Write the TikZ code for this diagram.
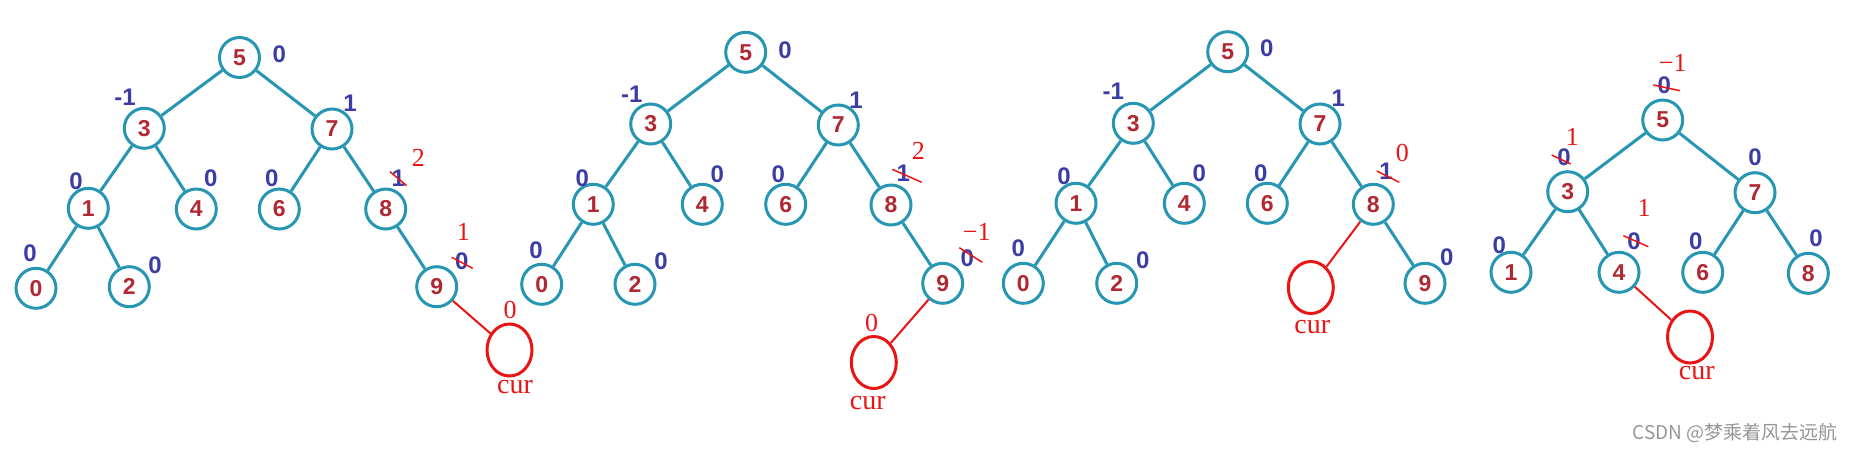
\documentclass[tikz,border=0pt]{standalone}
\usepackage{fontspec}
\setmainfont{Liberation Serif}
\setsansfont{Liberation Sans}
\newfontfamily\cjkfont{Noto Sans CJK SC}
\usetikzlibrary{shapes.geometric}
\definecolor{tealc}{RGB}{38,150,178}
\definecolor{nred}{RGB}{175,40,50}
\definecolor{bcol}{RGB}{60,60,165}
\definecolor{ared}{RGB}{235,20,20}
\definecolor{wm}{RGB}{150,150,150}
\tikzset{
 nd/.style={circle, draw=tealc, line width=1.5pt, minimum size=20pt, inner sep=0pt, font=\sffamily\bfseries\fontsize{11.5}{13}\selectfont, text=nred, fill=white},
 ed/.style={draw=tealc, line width=1.5pt},
 bal/.style={font=\sffamily\bfseries\fontsize{12}{14}\selectfont, text=bcol, inner sep=0pt},
 ann/.style={font=\fontsize{13}{15}\selectfont, text=ared, inner sep=0pt},
 curt/.style={font=\fontsize{14}{16}\selectfont, text=ared, inner sep=0pt},
 strike/.style={draw=ared, line width=0.75pt},
 curc/.style={ellipse, draw=ared, line width=1.5pt, minimum width=22.5pt, minimum height=26pt, inner sep=0pt},
 redl/.style={draw=ared, line width=1pt},
}
\begin{document}
\begin{tikzpicture}[x=0.5pt,y=-0.5pt]
\useasboundingbox (0,0) rectangle (1856,456);
% ---------- Tree 1 ----------
\node[nd] (a5) at (239.5,57.5) {5};
\node[nd] (a3) at (144.3,128.3) {3};
\node[nd] (a7) at (332,129) {7};
\node[nd] (a1) at (88.3,208.3) {1};
\node[nd] (a4) at (196.3,209) {4};
\node[nd] (a6) at (279.3,209) {6};
\node[nd] (a8) at (385.7,209) {8};
\node[nd] (a0) at (36,288.3) {0};
\node[nd] (a2) at (129.3,286.7) {2};
\node[nd] (a9) at (436.7,286.7) {9};
\draw[ed] (a5)--(a3) (a5)--(a7) (a3)--(a1) (a3)--(a4) (a7)--(a6) (a7)--(a8) (a1)--(a0) (a1)--(a2) (a8)--(a9);
\node[bal] (ab5) at (279.3,54) {0};
\node[bal] (ab3) at (125,97.3) {-1};
\node[bal] (ab7) at (350,103.3) {1};
\node[bal] (ab1) at (76,181.7) {0};
\node[bal] (ab4) at (210.7,178.3) {0};
\node[bal] (ab6) at (271.7,178.3) {0};
\node[bal] (ab8) at (398.3,178.3) {1};
\node[bal] (ab0) at (30,253.3) {0};
\node[bal] (ab2) at (155,265) {0};
\node[bal] (ab9) at (461.7,261.7) {0};
\draw[strike] (390,171.7) -- (406.7,185.7);
\draw[strike] (451.7,257.3) -- (472.7,268.3);
\node[ann] (an8) at (418.3,158.3) {2};
\node[ann] (an9) at (463.3,232.3) {1};
\node[curc] (ac) at (509.5,350) {};
\draw[redl] (a9) -- (ac);
\node[ann] (acz) at (510,310) {0};
\node[curt] (acl) at (515,387) {cur};
% ---------- Tree 2 ----------
\node[nd] (b5) at (745.7,52.3) {5};
\node[nd] (b3) at (650.7,124) {3};
\node[nd] (b7) at (838.3,125) {7};
\node[nd] (b1) at (593.3,204.3) {1};
\node[nd] (b4) at (702.3,204.3) {4};
\node[nd] (b6) at (785.7,204.3) {6};
\node[nd] (b8) at (891,205) {8};
\node[nd] (b0) at (541.7,284.3) {0};
\node[nd] (b2) at (635,284.3) {2};
\node[nd] (b9) at (942.7,283.3) {9};
\draw[ed] (b5)--(b3) (b5)--(b7) (b3)--(b1) (b3)--(b4) (b7)--(b6) (b7)--(b8) (b1)--(b0) (b1)--(b2) (b8)--(b9);
\node[bal] (bb5) at (785,50) {0};
\node[bal] (bb3) at (631.7,94) {-1};
\node[bal] (bb7) at (856,100) {1};
\node[bal] (bb1) at (582.3,178.3) {0};
\node[bal] (bb4) at (717.3,174) {0};
\node[bal] (bb6) at (778.3,174) {0};
\node[bal] (bb8) at (903.3,173.3) {1};
\node[bal] (bb0) at (536,250) {0};
\node[bal] (bb2) at (661,261.7) {0};
\node[bal] (bb9) at (967.3,258.3) {0};
\draw[strike] (892.3,169.3) -- (921.7,182.3);
\draw[strike] (959.3,247.7) -- (982.3,262.3);
\node[ann] (bn8) at (918.3,150.7) {2};
\node[ann] (bn9) at (976.7,231.7) {−1};
\node[curc] (bc) at (873.8,362.5) {};
\draw[redl] (b9) -- (bc);
\node[ann] (bcz) at (871.7,323.3) {0};
\node[curt] (bcl) at (867.7,403.3) {cur};
% ---------- Tree 3 ----------
\node[nd] (c5) at (1227.7,51.7) {5};
\node[nd] (c3) at (1133.3,123.3) {3};
\node[nd] (c7) at (1320,124) {7};
\node[nd] (c1) at (1076,203.3) {1};
\node[nd] (c4) at (1184.3,203.3) {4};
\node[nd] (c6) at (1267.3,203.3) {6};
\node[nd] (c8) at (1373.3,204.3) {8};
\node[nd] (c0) at (1023.3,283.3) {0};
\node[nd] (c2) at (1116.7,283.3) {2};
\node[nd] (c9) at (1425,283.3) {9};
\draw[ed] (c5)--(c3) (c5)--(c7) (c3)--(c1) (c3)--(c4) (c7)--(c6) (c7)--(c8) (c1)--(c0) (c1)--(c2) (c8)--(c9);
\node[bal] (cb5) at (1266.7,48.3) {0};
\node[bal] (cb3) at (1113.3,91.7) {-1};
\node[bal] (cb7) at (1338.3,98.3) {1};
\node[bal] (cb1) at (1064,176.7) {0};
\node[bal] (cb4) at (1199.3,173.3) {0};
\node[bal] (cb6) at (1260.7,173.3) {0};
\node[bal] (cb8) at (1386,171.7) {1};
\node[bal] (cb0) at (1018.3,248.3) {0};
\node[bal] (cb2) at (1142.7,260) {0};
\node[bal] (cb9) at (1446.7,257.7) {0};
\draw[strike] (1376.7,171) -- (1399.3,182.3);
\node[ann] (cn8) at (1402.3,153.3) {0};
\node[curc] (cc) at (1310.8,287.5) {};
\draw[redl] (c8) -- (cc);
\node[curt] (ccl) at (1312.3,327) {cur};
% ---------- Tree 4 ----------
\node[nd] (d5) at (1662.7,120) {5};
\node[nd] (d3) at (1567.7,191.7) {3};
\node[nd] (d7) at (1755,192.7) {7};
\node[nd] (d1) at (1511,272.3) {1};
\node[nd] (d4) at (1619,272.3) {4};
\node[nd] (d6) at (1702.7,272.3) {6};
\node[nd] (d8) at (1808.3,273.3) {8};
\draw[ed] (d5)--(d3) (d5)--(d7) (d3)--(d1) (d3)--(d4) (d7)--(d6) (d7)--(d8);
\node[bal] (db5) at (1664.3,85.7) {0};
\node[bal] (db3) at (1564,157.3) {0};
\node[bal] (db7) at (1755,157.3) {0};
\node[bal] (db1) at (1499.3,245.7) {0};
\node[bal] (db4) at (1634,241.7) {0};
\node[bal] (db6) at (1695.7,241.7) {0};
\node[bal] (db8) at (1816,238.3) {0};
\draw[strike] (1653.3,85) -- (1680,90.7);
\draw[strike] (1551.7,155) -- (1570.7,164);
\draw[strike] (1623.3,235.7) -- (1648.3,246.7);
\node[ann] (dn5) at (1672.7,63.3) {−1};
\node[ann] (dn3) at (1572.3,136.7) {1};
\node[ann] (dn4) at (1644,208.3) {1};
\node[curc] (dc) at (1690,337) {};
\draw[redl] (d4) -- (dc);
\node[curt] (dcl) at (1696.7,373.3) {cur};
% watermark
\node[font=\cjkfont\fontsize{9.5}{11}\selectfont, text=wm, inner sep=0pt] (wmk) at (1735,433) {CSDN @梦乘着风去远航};
\end{tikzpicture}
\end{document}
